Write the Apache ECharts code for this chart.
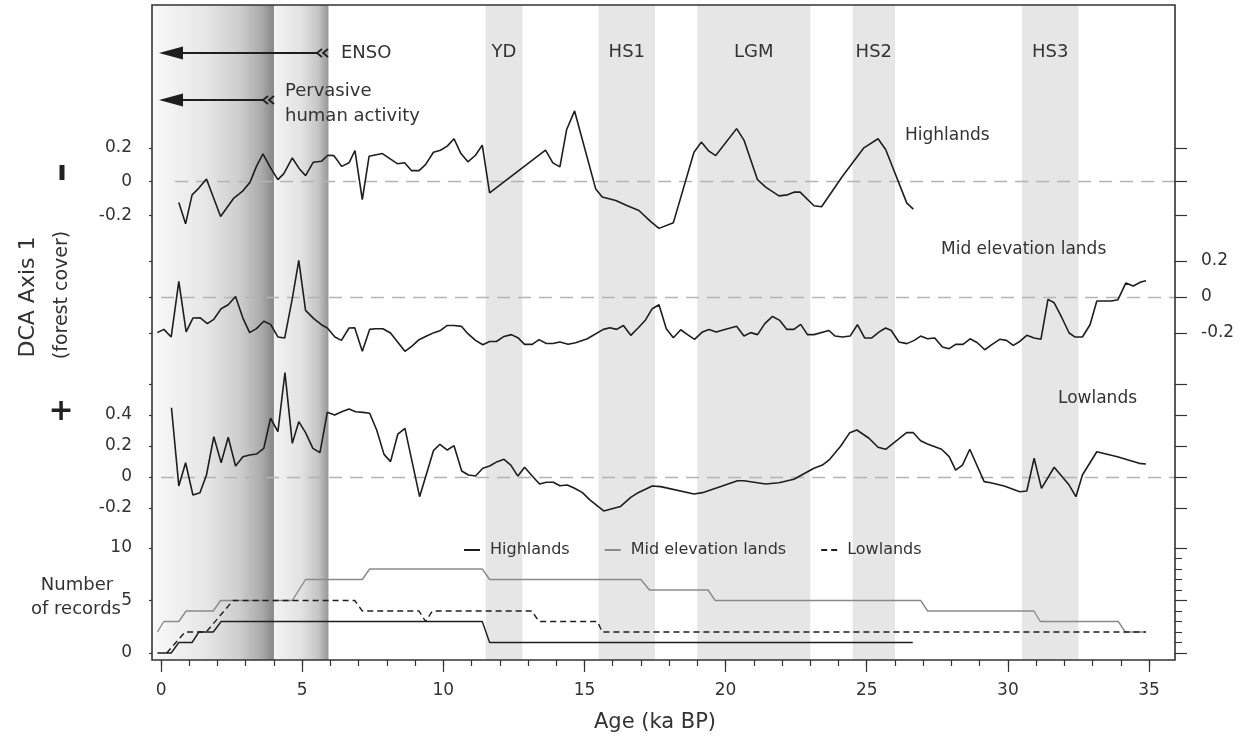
<!DOCTYPE html>
<html><head><meta charset="utf-8">
<script src="https://cdn.jsdelivr.net/npm/echarts@6/dist/echarts.min.js"></script>
<style>html,body{margin:0;padding:0;background:#fff}#c{width:1243px;height:746px}</style>
</head><body><div id="c"></div>
<script>
// ---- data: [age (ka BP), DCA axis 1 score] ----
const highlandsDCA = [[0.63,-0.124],[0.87,-0.25],[1.10,-0.078],[1.34,-0.038],[1.61,0.016],[2.11,-0.207],[2.58,-0.097],[2.88,-0.058],[3.15,-0.004],[3.38,0.091],[3.61,0.165],[3.88,0.082],[4.14,0.012],[4.35,0.048],[4.65,0.141],[4.92,0.072],[5.12,0.036],[5.39,0.115],[5.68,0.121],[5.91,0.157],[6.12,0.155],[6.40,0.091],[6.66,0.112],[6.87,0.185],[7.13,-0.107],[7.37,0.151],[7.84,0.167],[8.37,0.107],[8.63,0.112],[8.87,0.066],[9.14,0.066],[9.37,0.101],[9.65,0.175],[9.90,0.187],[10.14,0.211],[10.38,0.255],[10.61,0.171],[10.87,0.118],[11.14,0.157],[11.38,0.217],[11.64,-0.066],[13.62,0.187],[13.88,0.112],[14.13,0.088],[14.37,0.310],[14.65,0.42],[15.40,-0.044],[15.63,-0.091],[16.11,-0.111],[16.52,-0.143],[16.93,-0.171],[17.35,-0.237],[17.64,-0.277],[18.15,-0.243],[18.88,0.175],[19.14,0.235],[19.41,0.181],[19.65,0.155],[20.39,0.315],[20.65,0.247],[21.13,0.012],[21.42,-0.032],[21.89,-0.084],[22.19,-0.078],[22.42,-0.062],[22.64,-0.062],[23.13,-0.143],[23.40,-0.149],[24.14,0.032],[24.90,0.201],[25.40,0.255],[25.67,0.191],[26.42,-0.127],[26.65,-0.163]];
const midElevationDCA = [[-0.13,-0.198],[0.10,-0.18],[0.36,-0.222],[0.63,0.087],[0.89,-0.194],[1.13,-0.117],[1.38,-0.115],[1.64,-0.148],[1.87,-0.124],[2.13,-0.065],[2.38,-0.043],[2.64,0.003],[2.90,-0.117],[3.14,-0.198],[3.38,-0.176],[3.64,-0.135],[3.88,-0.152],[4.14,-0.222],[4.38,-0.228],[4.65,-0.009],[4.88,0.203],[5.12,-0.074],[5.41,-0.12],[5.68,-0.154],[5.89,-0.172],[6.16,-0.222],[6.39,-0.241],[6.66,-0.172],[6.86,-0.171],[7.13,-0.302],[7.39,-0.18],[7.60,-0.176],[7.86,-0.176],[8.13,-0.2],[8.64,-0.302],[8.90,-0.272],[9.14,-0.237],[9.41,-0.217],[9.67,-0.198],[9.90,-0.186],[10.14,-0.158],[10.38,-0.158],[10.64,-0.163],[10.87,-0.204],[11.14,-0.241],[11.40,-0.265],[11.64,-0.247],[11.88,-0.247],[12.15,-0.219],[12.41,-0.209],[12.64,-0.226],[12.88,-0.263],[13.15,-0.263],[13.39,-0.237],[13.65,-0.258],[13.88,-0.258],[14.13,-0.25],[14.42,-0.263],[14.69,-0.254],[15.10,-0.232],[15.67,-0.18],[15.90,-0.171],[16.14,-0.18],[16.38,-0.158],[16.64,-0.213],[16.90,-0.172],[17.17,-0.126],[17.40,-0.065],[17.64,-0.043],[17.90,-0.176],[18.15,-0.226],[18.41,-0.182],[18.65,-0.209],[18.90,-0.235],[19.18,-0.194],[19.41,-0.18],[19.67,-0.194],[19.94,-0.182],[20.39,-0.163],[20.65,-0.217],[20.89,-0.198],[21.13,-0.209],[21.39,-0.148],[21.66,-0.108],[21.92,-0.13],[22.17,-0.18],[22.42,-0.18],[22.66,-0.152],[22.90,-0.209],[23.13,-0.209],[23.66,-0.186],[23.88,-0.217],[24.14,-0.222],[24.41,-0.217],[24.67,-0.154],[24.93,-0.228],[25.17,-0.228],[25.44,-0.194],[25.67,-0.172],[25.87,-0.186],[26.14,-0.25],[26.42,-0.259],[26.68,-0.241],[26.91,-0.217],[27.15,-0.232],[27.41,-0.228],[27.68,-0.278],[27.92,-0.287],[28.15,-0.263],[28.41,-0.263],[28.66,-0.232],[28.92,-0.254],[29.18,-0.293],[29.43,-0.265],[29.71,-0.235],[29.95,-0.241],[30.19,-0.269],[30.42,-0.247],[30.67,-0.213],[30.93,-0.228],[31.17,-0.235],[31.42,-0.013],[31.64,-0.032],[31.90,-0.111],[32.17,-0.2],[32.37,-0.222],[32.64,-0.222],[32.91,-0.154],[33.15,-0.022],[33.41,-0.022],[33.67,-0.022],[33.90,-0.015],[34.18,0.078],[34.44,0.061],[34.71,0.083],[34.89,0.09]];
const lowlandsDCA = [[0.37,0.447],[0.63,-0.058],[0.87,0.092],[1.13,-0.116],[1.38,-0.101],[1.61,0.013],[1.87,0.26],[2.13,0.092],[2.38,0.256],[2.64,0.071],[2.90,0.131],[3.14,0.142],[3.38,0.148],[3.64,0.185],[3.88,0.379],[4.14,0.292],[4.39,0.673],[4.65,0.217],[4.88,0.357],[5.12,0.286],[5.38,0.185],[5.63,0.157],[5.89,0.417],[6.15,0.4],[6.40,0.421],[6.66,0.439],[6.89,0.421],[7.15,0.417],[7.39,0.411],[7.64,0.303],[7.90,0.146],[8.13,0.099],[8.39,0.277],[8.64,0.314],[9.16,-0.127],[9.65,0.17],[9.88,0.211],[10.14,0.174],[10.38,0.202],[10.65,0.039],[10.89,0.013],[11.14,0.006],[11.40,0.056],[11.64,0.071],[11.91,0.099],[12.15,0.114],[12.39,0.077],[12.64,0.006],[12.88,0.063],[13.15,0.006],[13.41,-0.045],[13.65,-0.034],[13.90,-0.034],[14.13,-0.056],[14.39,-0.052],[14.65,-0.073],[14.93,-0.101],[15.19,-0.148],[15.68,-0.219],[16.28,-0.19],[16.64,-0.131],[16.90,-0.101],[17.40,-0.058],[17.70,-0.062],[18.88,-0.11],[19.18,-0.101],[19.83,-0.062],[20.42,-0.024],[20.65,-0.024],[21.42,-0.045],[21.89,-0.037],[22.42,-0.015],[23.13,0.056],[23.43,0.077],[23.69,0.114],[24.08,0.2],[24.40,0.286],[24.65,0.303],[25.08,0.25],[25.40,0.192],[25.67,0.179],[26.09,0.239],[26.41,0.286],[26.65,0.286],[26.91,0.234],[27.15,0.213],[27.65,0.179],[27.92,0.131],[28.15,0.045],[28.39,0.077],[28.65,0.179],[29.16,-0.03],[29.39,-0.037],[29.87,-0.058],[30.42,-0.095],[30.67,-0.09],[30.93,0.121],[31.19,-0.073],[31.64,0.063],[32.17,-0.052],[32.41,-0.127],[32.64,0.013],[33.15,0.163],[33.88,0.131],[34.65,0.088],[34.89,0.084]];
// ---- number of records: [age, count] ----
const highlandsRecords = [[-0.13,0],[0.36,0],[0.63,1],[1.10,1],[1.34,2],[1.85,2],[2.13,3],[11.38,3],[11.64,1],[26.63,1]];
const midElevationRecords = [[-0.13,2],[0.10,3],[0.63,3],[0.89,4],[1.85,4],[2.11,5],[4.65,5],[5.12,7],[7.13,7],[7.39,8],[11.38,8],[11.64,7],[17.0,7],[17.3,6],[19.38,6],[19.63,5],[26.91,5],[27.16,4],[30.92,4],[31.15,3],[33.91,3],[34.16,2],[34.89,2]];
const lowlandsRecords = [[0.2,0],[0.85,2],[1.6,2],[2.55,5],[6.86,5],[7.13,4],[9.14,4],[9.37,3],[9.61,4],[13.13,4],[13.39,3],[15.46,3],[15.63,2],[34.89,2]];
// ---- climate events (ka BP) ----
const eventNames = ['YD','HS1','LGM','HS2','HS3'];
const eventStart = [11.5,15.5,19.0,24.5,30.5];
const eventEnd = [12.8,17.5,23.0,26.0,32.5];
const humanPhase = [[-0.32,4.0],[4.0,5.93]];
const xTicksMajor = [0,5,10,15,20,25,30,35];
const xTicksMinor = Array.from({length:36},(_,i)=>i);
const recordNames = ['Highlands','Mid elevation lands','Lowlands'];

const FONT = 'DejaVu Sans';
const TXT = '#333';
const XMIN = -0.32, XMAX = 35.92;
const L = 152, W = 1023;

const chart = echarts.init(document.getElementById('c'));

function hiddenX(g){return {gridIndex:g,type:'value',min:XMIN,max:XMAX,show:false};}
function yAx(g,pos,min,max,interval,showLabel,margin,fmt){
  return {gridIndex:g,type:'value',position:pos,min:min,max:max,interval:interval,
    axisLine:{show:false},splitLine:{show:false},
    axisTick:{show:true,length:12,lineStyle:{color:'#333',width:1.2}},
    axisLabel:{show:showLabel,margin:margin,fontSize:17,color:TXT,fontFamily:FONT,
      formatter:fmt||function(v){return String(Math.round(v*10)/10);}}};
}
const bandData = eventNames.map((n,i)=>[{name:n,xAxis:eventStart[i],itemStyle:{color:'#e6e6e6'}},{xAxis:eventEnd[i]}]);
const grad1 = new echarts.graphic.LinearGradient(0,0,1,0,[{offset:0,color:'#f9f9f9'},{offset:0.45,color:'#e6e6e6'},{offset:0.72,color:'#cdcdcd'},{offset:0.9,color:'#aaaaaa'},{offset:1,color:'#858585'}]);
const grad2 = new echarts.graphic.LinearGradient(0,0,1,0,[{offset:0,color:'#f3f3f3'},{offset:0.5,color:'#e2e2e2'},{offset:0.82,color:'#c4c4c4'},{offset:1,color:'#969696'}]);
const gradData = [
  [{xAxis:humanPhase[0][0],itemStyle:{color:grad1},label:{show:false}},{xAxis:humanPhase[0][1]}],
  [{xAxis:humanPhase[1][0],itemStyle:{color:grad2},label:{show:false}},{xAxis:humanPhase[1][1]}]
];
function zeroLine(start){
  return {silent:true,symbol:['none','none'],label:{show:false},
    lineStyle:{type:[13,8],color:'#b4b4b4',width:1.3},
    data:[[{coord:[start,0]},{coord:[XMAX,0]}]]};
}
function dcaSeries(name,data,g,start){
  return {name:name,type:'line',xAxisIndex:g+1,yAxisIndex:2*g-1,data:data,showSymbol:false,symbol:'none',
    clip:false,lineStyle:{color:'#1e1e1e',width:1.6},z:5,markLine:zeroLine(start)};
}
const recStyles = [{color:'#1e1e1e',type:'solid'},{color:'#8a8a8a',type:'solid'},{color:'#1e1e1e',type:[6,4]}];
const recData = [highlandsRecords,midElevationRecords,lowlandsRecords];

const option = {
  animation:false,
  backgroundColor:'#fff',
  grid:[
    {left:L,top:5,width:W,height:655},
    {left:L,top:148,width:W,height:67.4},
    {left:L,top:261,width:W,height:72},
    {left:L,top:384,width:W,height:124},
    {left:L,top:548,width:W,height:105}
  ],
  xAxis:[
    {gridIndex:0,type:'value',min:XMIN,max:XMAX,position:'bottom',axisLine:{show:false},splitLine:{show:false},
      axisTick:{show:true,customValues:xTicksMinor,length:6,lineStyle:{color:'#333',width:1.2}},axisLabel:{show:false}},
    {gridIndex:0,type:'value',min:XMIN,max:XMAX,position:'bottom',axisLine:{show:false},splitLine:{show:false},
      axisTick:{show:true,customValues:xTicksMajor,length:12,lineStyle:{color:'#333',width:1.2}},
      axisLabel:{show:true,customValues:xTicksMajor,margin:22,fontSize:17,color:TXT,fontFamily:FONT}},
    hiddenX(1),hiddenX(2),hiddenX(3),hiddenX(4)
  ],
  yAxis:[
    {gridIndex:0,type:'value',min:0,max:1,show:false},
    yAx(1,'left',-0.2,0.2,0.2,true,20),
    yAx(1,'right',-0.2,0.2,0.2,false,26),
    yAx(2,'left',-0.2,0.2,0.2,false,20),
    yAx(2,'right',-0.2,0.2,0.2,true,26),
    yAx(3,'left',-0.2,0.6,0.2,true,20,function(v){return v>0.5?'':String(Math.round(v*10)/10);}),
    yAx(3,'right',-0.2,0.6,0.2,false,26),
    Object.assign(yAx(4,'left',0,10,5,true,20),{minorTick:{show:true,splitNumber:5,length:7,lineStyle:{color:'#333',width:1.1}}}),
    Object.assign(yAx(4,'right',0,10,5,false,26),{minorTick:{show:true,splitNumber:5,length:7,lineStyle:{color:'#333',width:1.1}}})
  ],
  legend:{
    data:recordNames,top:537,left:458,itemWidth:16,itemHeight:12,itemGap:34,
    itemStyle:{opacity:0},
    textStyle:{fontSize:16,color:TXT,fontFamily:FONT,padding:[0,0,0,5]}
  },
  series:[
    {name:'events',type:'line',xAxisIndex:0,yAxisIndex:0,data:[],silent:true,
      markArea:{silent:true,
        label:{show:true,position:'insideTop',distance:38,fontSize:18,color:TXT,fontFamily:FONT},
        data:gradData.concat(bandData)}},
    dcaSeries('Highlands DCA',highlandsDCA,1,0.5),
    dcaSeries('Mid elevation DCA',midElevationDCA,2,0),
    dcaSeries('Lowlands DCA',lowlandsDCA,3,0)
  ].concat(recordNames.map((n,i)=>({
    name:n,type:'line',xAxisIndex:5,yAxisIndex:7,data:recData[i],showSymbol:false,symbol:'none',clip:false,z:4,
    itemStyle:{color:recStyles[i].color},
    lineStyle:{color:recStyles[i].color,width:1.4,type:recStyles[i].type}
  }))),
  graphic:[
    {type:'rect',silent:true,z:100,shape:{x:L,y:5,width:W,height:655},style:{fill:'none',stroke:'#333',lineWidth:1.6}},
    // ENSO arrow
    {type:'line',silent:true,z:50,shape:{x1:172,y1:53,x2:318,y2:53},style:{stroke:'#1e1e1e',lineWidth:2}},
    {type:'polygon',silent:true,z:50,shape:{points:[[159,53],[183,46.5],[183,59.5]]},style:{fill:'#1e1e1e'}},
    {type:'polyline',silent:true,z:50,shape:{points:[[322,49],[317,53],[322,57]]},style:{stroke:'#1e1e1e',lineWidth:1.8,fill:null}},
    {type:'polyline',silent:true,z:50,shape:{points:[[328,49],[323,53],[328,57]]},style:{stroke:'#1e1e1e',lineWidth:1.8,fill:null}},
    // Pervasive human activity arrow
    {type:'line',silent:true,z:50,shape:{x1:172,y1:100,x2:264,y2:100},style:{stroke:'#1e1e1e',lineWidth:2}},
    {type:'polygon',silent:true,z:50,shape:{points:[[159,100],[183,93.5],[183,106.5]]},style:{fill:'#1e1e1e'}},
    {type:'polyline',silent:true,z:50,shape:{points:[[268,96],[263,100],[268,104]]},style:{stroke:'#1e1e1e',lineWidth:1.8,fill:null}},
    {type:'polyline',silent:true,z:50,shape:{points:[[274,96],[269,100],[274,104]]},style:{stroke:'#1e1e1e',lineWidth:1.8,fill:null}},
    {type:'text',silent:true,z:50,x:341,y:53,style:{text:'ENSO',fontSize:18,fill:TXT,fontFamily:FONT,verticalAlign:'middle'}},
    {type:'text',silent:true,z:50,x:285,y:91,style:{text:'Pervasive',fontSize:18,fill:TXT,fontFamily:FONT,verticalAlign:'middle'}},
    {type:'text',silent:true,z:50,x:285,y:116,style:{text:'human activity',fontSize:18,fill:TXT,fontFamily:FONT,verticalAlign:'middle'}},
    {type:'text',silent:true,z:50,x:905,y:136,style:{text:'Highlands',fontSize:17,fill:TXT,fontFamily:FONT,verticalAlign:'middle'}},
    {type:'text',silent:true,z:50,x:941,y:250,style:{text:'Mid elevation lands',fontSize:17,fill:TXT,fontFamily:FONT,verticalAlign:'middle'}},
    {type:'text',silent:true,z:50,x:1058,y:399,style:{text:'Lowlands',fontSize:17,fill:TXT,fontFamily:FONT,verticalAlign:'middle'}},
    {type:'text',silent:true,z:50,x:28,y:297,rotation:Math.PI/2,style:{text:'DCA Axis 1',fontSize:22,fill:TXT,fontFamily:FONT,align:'center',verticalAlign:'middle'}},
    {type:'text',silent:true,z:50,x:62,y:295,rotation:Math.PI/2,style:{text:'(forest cover)',fontSize:19,fill:TXT,fontFamily:FONT,align:'center',verticalAlign:'middle'}},
    {type:'rect',silent:true,z:50,shape:{x:59.5,y:165,width:5,height:15},style:{fill:'#222'}},
    {type:'text',silent:true,z:50,x:61,y:412,style:{text:'+',fontSize:30,fontWeight:'bold',fill:'#222',fontFamily:FONT,align:'center',verticalAlign:'middle'}},
    {type:'text',silent:true,z:50,x:77,y:585,style:{text:'Number',fontSize:18,fill:TXT,fontFamily:FONT,align:'center',verticalAlign:'middle'}},
    {type:'text',silent:true,z:50,x:76,y:609,style:{text:'of records',fontSize:18,fill:TXT,fontFamily:FONT,align:'center',verticalAlign:'middle'}},
    {type:'text',silent:true,z:50,x:655,y:723,style:{text:'Age (ka BP)',fontSize:21,fill:TXT,fontFamily:FONT,align:'center',verticalAlign:'middle'}}
  ]
};
chart.setOption(option);
</script></body></html>
